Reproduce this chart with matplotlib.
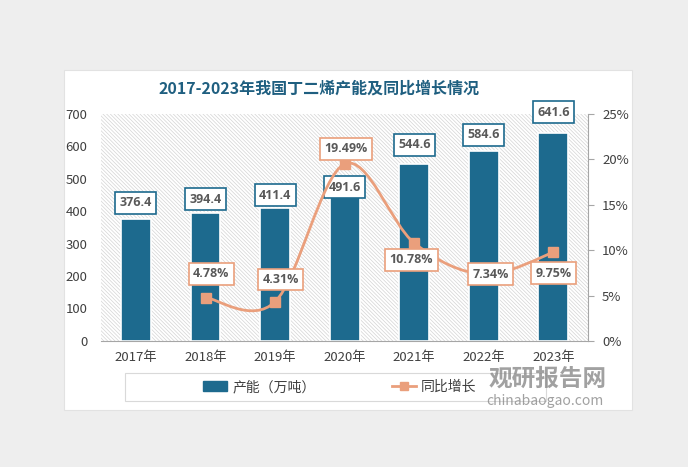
import numpy as np
import matplotlib.pyplot as plt
from matplotlib.patches import Rectangle, PathPatch
from matplotlib.path import Path
from matplotlib.lines import Line2D

plt.rcParams['font.family'] = ['Noto Sans CJK SC', 'DejaVu Sans']
plt.rcParams['hatch.linewidth'] = 0.5

years = ['2017年', '2018年', '2019年', '2020年', '2021年', '2022年', '2023年']
capacity = [376.4, 394.4, 411.4, 491.6, 544.6, 584.6, 641.6]
growth = [None, 4.78, 4.31, 19.49, 10.78, 7.34, 9.75]

bar_color = '#1d6a8e'
line_color = '#ea9f7c'
text_gray = '#595959'

fig = plt.figure(figsize=(6.88, 4.67), dpi=100)
fig.patch.set_facecolor('#eeeeee')
# white card
fig.patches.append(Rectangle((64 / 688, 1 - 410 / 467), 568 / 688, 340 / 467,
                             transform=fig.transFigure, facecolor='white',
                             edgecolor='#e2e2e2', lw=0.8, zorder=0))

ax = fig.add_axes([0.147, 0.270, 0.708, 0.486])
ax.set_facecolor('white')
x = np.arange(len(years))

# hatched plot background
ax.add_patch(Rectangle((0, 0), 1, 1, transform=ax.transAxes, facecolor='white',
                       edgecolor='#d4d4d4', hatch='\\' * 9, lw=0, zorder=0))

bars = ax.bar(x, capacity, width=0.43, color=bar_color, edgecolor='white', lw=1.2, zorder=2)
ax.set_xlim(-0.5, len(years) - 0.5)
ax.set_ylim(0, 700)
ax.set_yticks(range(0, 701, 100))
ax.set_xticks(x)
ax.set_xticklabels(years)
ax.tick_params(axis='both', colors='#404040', labelsize=9.5, length=0)
ax.tick_params(axis='y', pad=10)
ax.tick_params(axis='x', pad=7)
for s in ['top', 'right', 'left']:
    ax.spines[s].set_visible(False)
ax.spines['bottom'].set_color('#a6a6a6')

lab_font = dict(family='Open Sans', fontsize=9, fontweight='bold', color=text_gray)
bar_box = dict(boxstyle='square,pad=0.35', facecolor='white', edgecolor=bar_color, lw=1.2)
bar_offsets = [11.5, 10, 9, -4, 14, 12, 15]
for xi, v, off in zip(x, capacity, bar_offsets):
    ax.annotate(f'{v}', (xi, v), xytext=(0, off), textcoords='offset points',
                ha='center', va='center', bbox=bar_box, zorder=6, **lab_font)

ax2 = ax.twinx()
ax2.set_ylim(0, 25)
ax2.set_yticks(range(0, 26, 5))
ax2.set_yticklabels([f'{t}%' for t in range(0, 26, 5)])
ax2.tick_params(axis='y', colors='#404040', labelsize=9.5, length=4, direction='out', pad=6)
ax2.tick_params(axis='y', color='#a6a6a6')
for s in ['top', 'left', 'bottom']:
    ax2.spines[s].set_visible(False)
ax2.spines['right'].set_color('#a6a6a6')

# smoothed line (Catmull-Rom drawn as bezier segments)
gx = [xi for xi, g in zip(x, growth) if g is not None]
gy = [g for g in growth if g is not None]
pts = np.column_stack([gx, gy]).astype(float)
verts = [pts[0]]
codes = [Path.MOVETO]
n = len(pts)
for i in range(n - 1):
    p0 = pts[i - 1] if i > 0 else pts[i]
    p1, p2 = pts[i], pts[i + 1]
    p3 = pts[i + 2] if i + 2 < n else pts[i + 1]
    c1 = p1 + (p2 - p0) / 6
    c2 = p2 - (p3 - p1) / 6
    verts += [c1, c2, p2]
    codes += [Path.CURVE4] * 3
ax2.add_patch(PathPatch(Path(verts, codes), facecolor='none', edgecolor=line_color, lw=2, zorder=3))
ax2.plot(gx, gy, ls='none', marker='s', ms=6.5, color=line_color, zorder=4)

line_box = dict(boxstyle='square,pad=0.35', facecolor='white', edgecolor=line_color, lw=1.2)
line_offsets = [(4, 17), (4, 16), (1, 11), (-2, -12), (5, 0), (0, -15)]
for xi, v, (dx, dy) in zip(gx, gy, line_offsets):
    ax2.annotate(f'{v:.2f}%', (xi, v), xytext=(dx, dy), textcoords='offset points',
                 ha='center', va='center', bbox=line_box, zorder=7, **lab_font)
ax.set_zorder(1)
ax2.set_zorder(2)

fig.text(319 / 688, 1 - 89 / 467, '2017-2023年我国丁二烯产能及同比增长情况',
         ha='center', va='center', fontsize=11.5, fontweight='bold', color='#1f5f80')

# legend
fig.patches.append(Rectangle((125 / 688, 1 - 401 / 467), 421 / 688, 28 / 467,
                             transform=fig.transFigure, facecolor='white',
                             edgecolor='#d9d9d9', lw=0.8, zorder=1))
handles = [Rectangle((0, 0), 1, 1, color=bar_color),
           Line2D([], [], color=line_color, lw=2, marker='s', ms=6)]
leg = fig.legend(handles, ['产能（万吨）', '同比增长'], loc='center',
                 bbox_to_anchor=(340 / 688, 1 - 387 / 467), ncol=2, frameon=False,
                 fontsize=10, columnspacing=5.5, handlelength=1.7, handletextpad=0.4)
for t in leg.get_texts():
    t.set_color('#404040')

# watermark
fig.text(548 / 688, 1 - 379 / 467, '观研报告网', ha='center', va='center', fontsize=17,
         fontweight='bold', color='#8a8a8a', alpha=0.8)
fig.text(545 / 688, 1 - 401 / 467, 'chinabaogao.com', ha='center', va='center', fontsize=10,
         color='#8a8a8a', alpha=0.8)

fig.savefig('out.png', dpi=100, facecolor=fig.get_facecolor())
